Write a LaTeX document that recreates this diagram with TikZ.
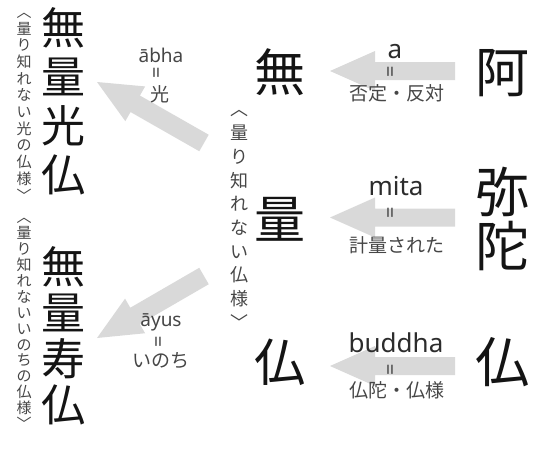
\documentclass[tikz,border=0pt]{standalone}
\usepackage{fontspec}
\newfontfamily\cjk{Noto Sans CJK JP}
\newfontfamily\lat{Noto Sans}
\usetikzlibrary{calc}
\definecolor{arrowgray}{RGB}{217,217,217}
\definecolor{labelgray}{RGB}{70,70,70}
\definecolor{inkblack}{RGB}{20,20,20}
\newcommand{\fatarrow}[4]{% tail, head, half shaft, head length
  \path ($(#2)!#4!(#1)$) coordinate (fa-b);
  \fill[arrowgray] ($(fa-b)!#3!90:(#2)$) -- ($(fa-b)!20pt!90:(#2)$) -- (#2)
    -- ($(fa-b)!20pt!-90:(#2)$) -- ($(fa-b)!#3!-90:(#2)$)
    -- ($(#1)!#3!-90:(#2)$) -- ($(#1)!#3!90:(#2)$) -- cycle;
}
\tikzset{
  bigright/.style={inner sep=0pt, text=inkblack, font=\cjk\fontsize{54}{54}\selectfont},
  bigmid/.style={inner sep=0pt, text=inkblack, font=\cjk\fontsize{51}{51}\selectfont},
  bigleft/.style={inner sep=0pt, text=inkblack, align=center, font=\cjk\fontsize{44}{#1}\selectfont},
  vsmall/.style={inner sep=0pt, text=labelgray, align=center, font=\cjk\fontsize{15}{#1}\selectfont},
  vmid/.style={inner sep=0pt, text=labelgray, align=center, font=\cjk\fontsize{18}{23.7}\selectfont},
  latbig/.style={inner sep=0pt, anchor=base, text=inkblack!90, font=\lat\fontsize{26}{26}\selectfont},
  latsmall/.style={inner sep=0pt, anchor=base, text=labelgray, font=\lat\fontsize{19}{19}\selectfont},
  jlabel/.style={inner sep=0pt, text=labelgray, font=\cjk\fontsize{19}{19}\selectfont},
  eqv/.style={inner sep=0pt, text=labelgray, rotate=90, font=\lat\fontsize{20}{20}\selectfont},
}
\begin{document}
\begin{tikzpicture}[x=1pt,y=-1pt]
\useasboundingbox (0,0) rectangle (540,450);

% arrow end points
\coordinate (t1) at (455,71);
\coordinate (h1) at (330,71);
\coordinate (t2) at (455,217.5);
\coordinate (h2) at (330,217.5);
\coordinate (t3) at (455,366);
\coordinate (h3) at (330,366);
\coordinate (t4) at (204,143);
\coordinate (h4) at (97,82);
\coordinate (t5) at (204,276);
\coordinate (h5) at (97,338);

\fatarrow{t1}{h1}{9pt}{45pt}
\fatarrow{t2}{h2}{9pt}{45pt}
\fatarrow{t3}{h3}{9pt}{45pt}
\fatarrow{t4}{h4}{9.5pt}{44pt}
\fatarrow{t5}{h5}{9.5pt}{44pt}

% right column
\node[bigright] (ra) at (502,73) {阿};
\node[bigright] (rmi) at (502,192) {弥};
\node[bigright] (rda) at (502,246) {陀};
\node[bigright] (rbu) at (502,362) {仏};

% middle column
\node[bigmid] (mmu) at (280,72) {無};
\node[bigmid] (mry) at (280,219) {量};
\node[bigmid] (mbu) at (280,362) {仏};
\node[vmid] (mv) at (239,220) {︿\\量\\り\\知\\れ\\な\\い\\仏\\様\\﹀};

% left column
\node[bigleft=49] (lk1) at (63,101.5) {無\\量\\光\\仏};
\node[bigleft=46] (lk2) at (63,336) {無\\量\\寿\\仏};
\node[vsmall=16.7] (lv1) at (24,107) {︿\\量\\り\\知\\れ\\な\\い\\光\\の\\仏\\様\\﹀};
\node[vsmall=15.9] (lv2) at (24,324) {︿\\量\\り\\知\\れ\\な\\い\\い\\の\\ち\\の\\仏\\様\\﹀};

% labels of right arrows
\node[latbig] (la) at (395,58) {a};
\node[eqv] (e1) at (393,72) {=};
\node[jlabel] (j1) at (397,93.5) {否定・反対};
\node[latbig] (lm) at (396,195) {mita};
\node[eqv] (e2) at (393,213) {=};
\node[jlabel] (j2) at (397,245) {計量された};
\node[latbig] (lb) at (396,352) {buddha};
\node[eqv] (e3) at (393,370) {=};
\node[jlabel] (j3) at (397,390) {仏陀・仏様};

% labels of left arrows
\node[latsmall] (lab) at (161,62) {ābha};
\node[eqv] (e4) at (159,73) {=};
\node[jlabel] (j4) at (160,94) {光};
\node[latsmall] (lay) at (161,326) {āyus};
\node[eqv] (e5) at (161,342) {=};
\node[jlabel] (j5) at (161,361) {いのち};
\end{tikzpicture}
\end{document}
